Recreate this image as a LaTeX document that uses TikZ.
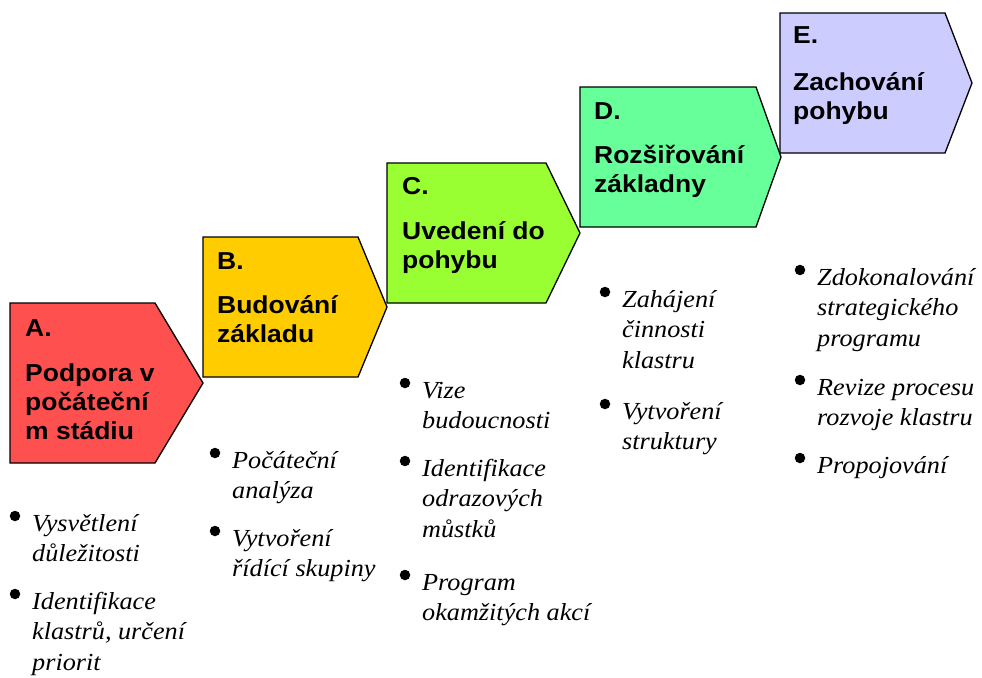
\documentclass[tikz,border=0pt]{standalone}
\usepackage{fontspec}
\newfontfamily\headfont[FakeStretch=1.08]{Liberation Sans}
\newfontfamily\itemfont[FakeStretch=1.07]{Liberation Serif}
\definecolor{stageA}{RGB}{255,80,80}
\definecolor{stageB}{RGB}{255,204,0}
\definecolor{stageC}{RGB}{153,255,51}
\definecolor{stageD}{RGB}{102,255,153}
\definecolor{stageE}{RGB}{204,204,255}
% stacked lines whose baseline is the first line
\newcommand\lns[1]{\begin{tabular}[t]{@{}l@{}}#1\end{tabular}}
% chevron: left, top, bottom, shoulder, tip, colour
\newcommand\chevron[6]{%
  \draw[stageshape, fill=#6] (#1,#2) -- (#4,#2) -- (#5,{(#2+#3)/2}) -- (#4,#3) -- (#1,#3) -- cycle;}
\tikzset{
  stageshape/.style={draw=black, line width=1.3pt, line join=miter},
  stagelabel/.style={anchor=base west, inner sep=0pt,
    font={\headfont\bfseries\fontsize{24.5pt}{29pt}\selectfont}},
  itemtext/.style={anchor=base west, inner sep=0pt,
    font={\itemfont\itshape\fontsize{24.5pt}{30.5pt}\selectfont}},
  dot/.style={circle, fill=black, inner sep=0pt, minimum size=10.5pt}
}
\begin{document}
\begin{tikzpicture}[x=1pt,y=-1pt]
\useasboundingbox (0,0) rectangle (982,677);
\fill[white] (0,0) rectangle (982,677);

% stage shapes
\chevron{10}{303}{463}{155}{203}{stageA}
\chevron{203}{237}{377}{358}{387}{stageB}
\chevron{387}{163}{303}{546}{580}{stageC}
\chevron{580}{87}{227}{756}{781}{stageD}
\chevron{780}{13}{153}{945}{972}{stageE}

% stage headings
\node[stagelabel] (labA) at (25,336) {A.};
\node[stagelabel] (titA) at (25,381) {\lns{Podpora v\\počáteční\\m stádiu}};
\node[stagelabel] (labB) at (217,269) {B.};
\node[stagelabel] (titB) at (217,313) {\lns{Budování\\základu}};
\node[stagelabel] (labC) at (402,194) {C.};
\node[stagelabel] (titC) at (402,239) {\lns{Uvedení do\\pohybu}};
\node[stagelabel] (labD) at (594,119) {D.};
\node[stagelabel] (titD) at (594,163) {\lns{Rozšiřování\\základny}};
\node[stagelabel] (labE) at (793,44) {E.};
\node[stagelabel] (titE) at (793,90) {\lns{Zachování\\pohybu}};

% activity lists
\node[dot] (bA1) at (15,516) {};
\node[itemtext] (iA1) at (32,531) {\lns{Vysvětlení\\důležitosti}};
\node[dot] (bA2) at (15,594) {};
\node[itemtext] (iA2) at (32,609) {\lns{Identifikace\\klastrů, určení\\priorit}};

\node[dot] (bB1) at (215,453) {};
\node[itemtext] (iB1) at (232,468) {\lns{Počáteční\\analýza}};
\node[dot] (bB2) at (215,531) {};
\node[itemtext] (iB2) at (232,546) {\lns{Vytvoření\\řídící skupiny}};

\node[dot] (bC1) at (405,383) {};
\node[itemtext] (iC1) at (422,398) {\lns{Vize\\budoucnosti}};
\node[dot] (bC2) at (405,461) {};
\node[itemtext] (iC2) at (422,476) {\lns{Identifikace\\odrazových\\můstků}};
\node[dot] (bC3) at (405,575) {};
\node[itemtext] (iC3) at (422,590) {\lns{Program\\okamžitých akcí}};

\node[dot] (bD1) at (605,292) {};
\node[itemtext] (iD1) at (622,307) {\lns{Zahájení\\činnosti\\klastru}};
\node[dot] (bD2) at (605,404) {};
\node[itemtext] (iD2) at (622,419) {\lns{Vytvoření\\struktury}};

\node[dot] (bE1) at (800,270) {};
\node[itemtext] (iE1) at (817,285) {\lns{Zdokonalování\\strategického\\programu}};
\node[dot] (bE2) at (800,380) {};
\node[itemtext] (iE2) at (817,395) {\lns{Revize procesu\\rozvoje klastru}};
\node[dot] (bE3) at (800,458) {};
\node[itemtext] (iE3) at (817,473) {\lns{Propojování}};
\end{tikzpicture}
\end{document}
